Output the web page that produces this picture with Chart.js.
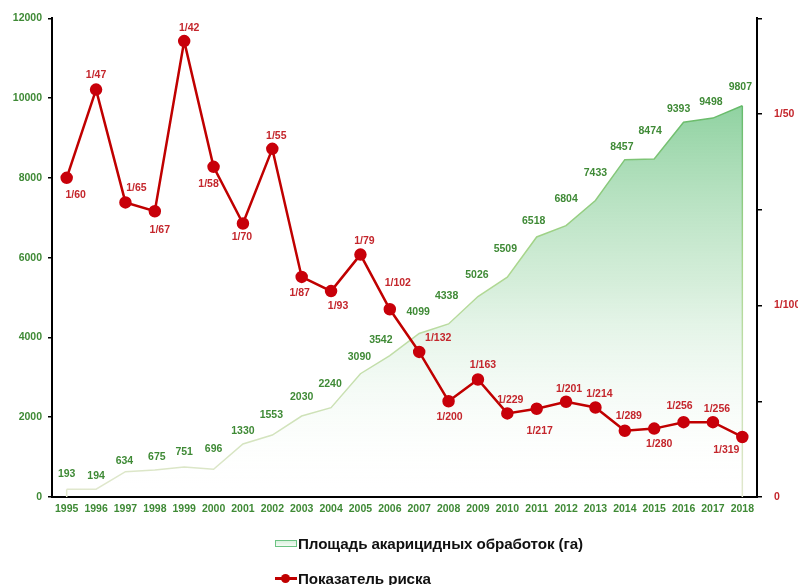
<!doctype html>
<html lang="ru">
  <head>
    <meta charset="utf-8">
    <title>Площадь акарицидных обработок и показатель риска</title>
    <style>
      * {
        margin: 0;
        padding: 0;
      }
      body {
        background: #fff;
        font-family: "Liberation Sans", Arial, sans-serif;
      }
      .chartBox {
        position: relative;
        width: 798px;
        height: 585px;
      }
      .legend {
        position: absolute;
        left: 275px;
        top: 531px;
        font-size: 15.2px;
        font-weight: bold;
        letter-spacing: -0.1px;
        color: #111;
      }
      .legend .item {
        display: flex;
        align-items: center;
        height: 24px;
        margin-bottom: 11px;
      }
      .swatchArea {
        width: 20px;
        height: 5px;
        border: 1px solid #6cc383;
        background: linear-gradient(#d9f0dd, #f4fbf5);
        margin-right: 1px;
      }
      .swatchLine {
        position: relative;
        width: 22px;
        height: 3px;
        background: #c00000;
        margin-right: 1px;
      }
      .swatchLine::after {
        content: '';
        position: absolute;
        left: 6px;
        top: -3px;
        width: 9px;
        height: 9px;
        border-radius: 50%;
        background: #c00000;
      }
    </style>
  </head>
  <body>
    <div class="chartBox">
      <canvas id="myChart" width="798" height="585"></canvas>
      <div class="legend">
        <div class="item"><span class="swatchArea"></span>Площадь акарицидных обработок (га)</div>
        <div class="item"><span class="swatchLine"></span>Показатель риска</div>
      </div>
    </div>
    <script src="https://cdn.jsdelivr.net/npm/chart.js/dist/chart.umd.min.js"></script>
    <script>
// data
const years = ['1995', '1996', '1997', '1998', '1999', '2000', '2001', '2002',
  '2003', '2004', '2005', '2006', '2007', '2008', '2009', '2010', '2011',
  '2012', '2013', '2014', '2015', '2016', '2017', '2018'];
const areaHa = [193, 194, 634, 675, 751, 696, 1330, 1553, 2030, 2240, 3090,
  3542, 4099, 4338, 5026, 5509, 6518, 6804, 7433, 8457, 8474, 9393, 9498, 9807];
// risk shown as 1/N, these are the N values
const riskDenom = [60, 47, 65, 67, 42, 58, 70, 55, 87, 93, 79, 102, 132, 200,
  163, 229, 217, 201, 214, 289, 280, 256, 256, 319];
const leftTicks = [0, 2000, 4000, 6000, 8000, 10000, 12000];
const riskTickValues = [0, 0.01, 0.02];
const riskTickText = ['0', '1/100', '1/50'];

// label placement (pixels from the point)
const areaLabelDx = [0, 0, -1, 2, 0, 0, 0, -1, 0, -1, -1, -9, -1, -2, -1, -2, -3, 0, 0, -3, -4, -5, -2, -2];
const areaLabelDy = [-15, -13, -11, -13, -15, -20, -13, -20, -19, -24, -17, -16, -21, -28, -21, -28, -16, -26, -27, -13, -28, -13, -16, -19];
const riskLabelDx = [9, 0, 11, 5, 5, -5, -1, 4, -2, 7, 4, 8, 19, 1, 5, 3, 3, 3, 4, 4, 5, -4, 4, -16];
const riskLabelDy = [17, -14, -14, 19, -13, 17, 14, -13, 16, 15, -14, -26, -14, 16, -14, -13, 22, -13, -13, -15, 15, -16, -13, 13];

const riskValues = riskDenom.map(n => 1 / n);
const riskLabels = riskDenom.map(n => '1/' + n);

const greenText = '#3f8a36';
const redText = '#c4262c';
const font = { family: '"Liberation Sans", Arial, sans-serif', size: 10.5, weight: 'bold' };

function areaFill(context) {
  const { ctx, chartArea } = context.chart;
  if (!chartArea) return 'rgba(120,200,140,0.5)';
  const g = ctx.createLinearGradient(0, chartArea.top, 0, chartArea.bottom);
  g.addColorStop(0, 'rgba(70,180,100,0.85)');
  g.addColorStop(0.55, 'rgba(170,220,180,0.5)');
  g.addColorStop(1, 'rgba(255,255,255,0)');
  return g;
}
function areaStroke(chart) {
  const { ctx, chartArea } = chart;
  if (!chartArea) return '#7cc47f';
  const g = ctx.createLinearGradient(0, chartArea.top, 0, chartArea.bottom);
  g.addColorStop(0, '#3faa55');
  g.addColorStop(0.5, '#a9d68c');
  g.addColorStop(1, '#e2e8cf');
  return g;
}

// edges of the area and the value labels
const labelPlugin = {
  id: 'labelPlugin',
  afterDatasetsDraw(chart) {
    const ctx = chart.ctx;
    const areaMeta = chart.getDatasetMeta(1);
    const riskMeta = chart.getDatasetMeta(0);
    ctx.save();
    ctx.font = 'bold 10.5px "Liberation Sans", Arial, sans-serif';
    ctx.textAlign = 'center';
    ctx.textBaseline = 'middle';
    ctx.fillStyle = greenText;
    areaMeta.data.forEach((p, i) => {
      ctx.fillText(areaHa[i], p.x + areaLabelDx[i], p.y + areaLabelDy[i]);
    });
    ctx.fillStyle = redText;
    riskMeta.data.forEach((p, i) => {
      ctx.fillText(riskLabels[i], p.x + riskLabelDx[i], p.y + riskLabelDy[i]);
    });
    ctx.restore();
  },
  beforeDatasetsDraw(chart) {
    const ctx = chart.ctx;
    const pts = chart.getDatasetMeta(1).data;
    const base = chart.scales.y.getPixelForValue(0);
    ctx.save();
    ctx.strokeStyle = areaStroke(chart);
    ctx.lineWidth = 1.5;
    [pts[0], pts[pts.length - 1]].forEach(p => {
      ctx.beginPath();
      ctx.moveTo(p.x, p.y);
      ctx.lineTo(p.x, base);
      ctx.stroke();
    });
    ctx.restore();
  }
};

const data = {
  labels: years,
  datasets: [{
    label: 'Показатель риска',
    data: riskValues,
    yAxisID: 'risk',
    borderColor: '#c00000',
    backgroundColor: '#c00000',
    borderWidth: 2.5,
    pointRadius: 5,
    pointHoverRadius: 5,
    pointBackgroundColor: '#c8000a',
    pointBorderColor: '#c8000a',
    tension: 0,
    order: 0
  }, {
    label: 'Площадь акарицидных обработок (га)',
    data: areaHa,
    yAxisID: 'y',
    fill: 'origin',
    backgroundColor: areaFill,
    borderColor: (c) => areaStroke(c.chart),
    borderWidth: 1.5,
    pointRadius: 0,
    tension: 0,
    order: 1
  }]
};

const config = {
  type: 'line',
  data,
  options: {
    responsive: false,
    animation: false,
    events: [],
    layout: { padding: { top: 16, left: 0, right: 0, bottom: 0 } },
    plugins: {
      legend: { display: false },
      tooltip: { enabled: false }
    },
    scales: {
      x: {
        offset: true,
        grid: { display: false, drawTicks: false },
        border: { display: true, color: '#000', width: 2 },
        ticks: { color: greenText, font, padding: 6, maxRotation: 0, autoSkip: false },
        afterFit(scale) { scale.height = 88; }
      },
      y: {
        position: 'left',
        min: 0,
        max: 12000,
        afterBuildTicks(scale) { scale.ticks = leftTicks.map(v => ({ value: v })); },
        grid: { drawOnChartArea: false, drawTicks: true, tickLength: 4, color: '#000', lineWidth: 1.5 },
        border: { display: true, color: '#000', width: 2 },
        ticks: { color: greenText, font, padding: 6, callback: (value) => String(value) },
        afterFit(scale) { scale.width = 52; }
      },
      risk: {
        position: 'right',
        min: 0,
        max: 0.025,
        ticks: {
          stepSize: 0.005,
          color: redText,
          font,
          padding: 12,
          callback(value) {
            const k = riskTickValues.findIndex(v => Math.abs(v - value) < 1e-9);
            return k >= 0 ? riskTickText[k] : '';
          }
        },
        grid: { drawOnChartArea: false, drawTicks: true, tickLength: 5, color: '#000', lineWidth: 1.5 },
        border: { display: true, color: '#000', width: 2 },
        afterFit(scale) { scale.width = 41; }
      }
    }
  },
  plugins: [labelPlugin]
};

const myChart = new Chart(document.getElementById('myChart'), config);
    </script>
  </body>
</html>
